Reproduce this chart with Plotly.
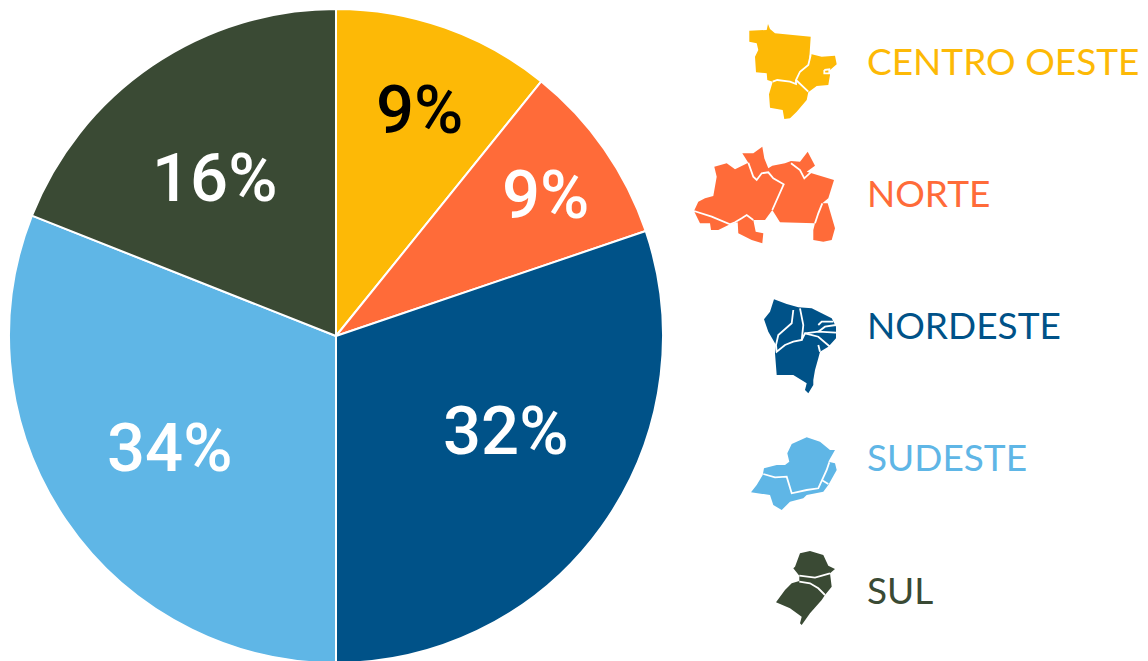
import plotly.graph_objects as go

regions = ["CENTRO OESTE", "NORTE", "NORDESTE", "SUDESTE", "SUL"]
slice_sizes = [10.8, 9.0, 30.2, 31.0, 19.0]
slice_labels = ["9%", "9%", "32%", "34%", "16%"]
colors = ["#FDB906", "#FF6B39", "#005288", "#5FB6E6", "#3A4A34"]
label_colors = ["#000000", "#FFFFFF", "#FFFFFF", "#FFFFFF", "#FFFFFF"]
label_xy = [(419, 110), (545, 195), (506, 431), (170, 448), (215, 178)]
legend_y = [60, 192, 324, 456, 589]

W, H = 1148, 665

# Decorative map icons: (origin, outline, inner boundary lines), in 3x pixel units
icons = [
    ((690, 15),
     [(178,47),(230,45),(234,27),(240,42),(255,55),(362,65),(358,130),(365,118),(395,125),(435,122),(440,148),(420,165),(420,180),(415,210),(380,213),(355,232),(350,255),(320,290),(300,310),(283,312),(278,285),(240,278),(237,238),(248,200),(232,195),(230,175),(198,172),(195,125),(205,105),(200,85),(178,80)],
     [[(362,120),(355,150),(330,170),(318,195),(355,230)],
      [(248,200),(262,195),(300,200),(318,207),(318,195)],
      [(403,165),(418,163),(418,175),(403,175),(403,165)]]),
    ((685, 135),
     [(27,228),(40,200),(60,190),(85,183),(95,125),(88,95),(125,85),(150,103),(190,83),(172,55),(205,55),(232,35),(238,70),(250,100),(262,92),(300,85),(318,78),(345,80),(368,50),(390,92),(365,110),(447,135),(430,190),(412,205),(428,205),(450,280),(440,315),(415,320),(385,315),(385,285),(390,265),(285,262),(262,225),(240,255),(205,255),(212,290),(235,295),(232,325),(200,315),(160,295),(158,262),(135,268),(100,285),(78,285),(75,265),(45,265)],
     [[(27,228),(80,245),(135,268),(150,262),(170,250),(185,240),(205,255)],
      [(190,83),(205,125),(215,135),(230,115),(250,112),(265,130),(296,148),(262,225)],
      [(318,85),(345,105),(358,130),(390,100)],
      [(412,205),(400,235),(390,265)]]),
    ((750, 290),
     [(72,28),(110,42),(145,52),(185,55),(215,70),(245,85),(258,110),(258,145),(235,170),(210,185),(205,205),(195,240),(190,270),(190,285),(175,310),(165,300),(170,280),(130,255),(80,255),(75,190),(78,165),(55,125),(42,88),(60,65)],
     [[(130,60),(125,100),(85,135),(78,165),(80,185),(105,165),(130,155),(155,150),(160,105),(150,55)],
      [(155,150),(165,130),(205,140),(240,170)],
      [(165,130),(205,125),(258,128)],
      [(205,125),(225,110),(258,105)],
      [(210,185),(205,165)],
      [(205,105),(215,95),(250,95)]]),
    ((740, 430),
     [(33,187),(50,165),(68,135),(72,115),(110,105),(135,105),(148,95),(142,70),(155,42),(200,22),(240,35),(270,60),(285,60),(265,95),(285,100),(290,120),(265,165),(250,185),(200,195),(190,205),(150,215),(125,240),(100,225),(90,195)],
     [[(70,132),(105,142),(140,140),(155,190),(200,180),(235,175),(260,120),(268,97)],
      [(245,150),(265,162)]]),
    ((760, 545),
     [(105,65),(120,25),(150,18),(190,30),(205,62),(225,72),(210,85),(215,125),(195,150),(185,165),(150,205),(125,240),(120,235),(125,215),(90,190),(48,172),(75,135),(95,115),(118,108),(118,92),(100,70)],
     [[(118,92),(165,98),(210,85)],
      [(118,110),(150,115),(175,130),(195,150)]]),
]


def to_path(origin, pts, close=False):
    s = " ".join(("M" if i == 0 else "L") + f"{origin[0] + x / 3:.1f},{origin[1] + y / 3:.1f}"
                 for i, (x, y) in enumerate(pts))
    return s + (" Z" if close else "")


shapes = []
for (origin, outline, lines), color in zip(icons, colors):
    shapes.append(dict(type="path", xref="x", yref="y", path=to_path(origin, outline, True),
                       fillcolor=color, line=dict(width=0), layer="above"))
    for ln in lines:
        shapes.append(dict(type="path", xref="x", yref="y", path=to_path(origin, ln),
                           line=dict(color="white", width=1.8), layer="above"))

fig = go.Figure(go.Pie(
    labels=regions, values=slice_sizes, sort=False, direction="clockwise", rotation=0,
    marker=dict(colors=colors, line=dict(color="white", width=2)),
    textinfo="none", hoverinfo="label", showlegend=False,
    domain=dict(x=[9 / W, 663 / W], y=[(H - 663) / H, (H - 9) / H]),
))

annotations = []
for txt, col, (x, y) in zip(slice_labels, label_colors, label_xy):
    annotations.append(dict(x=x, y=y, xref="x", yref="y", text=txt, showarrow=False,
                            font=dict(family="Roboto", size=67, weight=500, color=col)))
for name, col, y in zip(regions, colors, legend_y):
    annotations.append(dict(x=865, y=y, xref="x", yref="y", text=name, showarrow=False, xanchor="left",
                            font=dict(family="Lato", size=37, color=col)))

fig.update_layout(
    width=W, height=H, margin=dict(l=0, r=0, t=0, b=0), paper_bgcolor="white", plot_bgcolor="rgba(0,0,0,0)",
    xaxis=dict(range=[0, W], visible=False, domain=[0, 1], fixedrange=True),
    yaxis=dict(range=[H, 0], visible=False, domain=[0, 1], fixedrange=True),
    shapes=shapes, annotations=annotations,
)
fig.write_html("out.html", config=dict(displayModeBar=False),
               post_script="document.documentElement.style.overflow='hidden';document.body.style.margin='0';document.body.style.overflow='hidden';")
